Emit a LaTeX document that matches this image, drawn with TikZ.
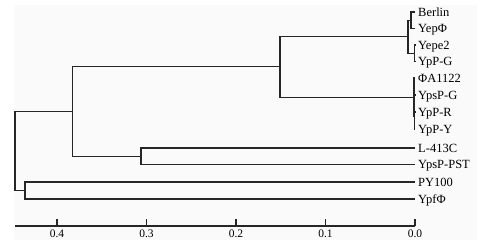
\documentclass[tikz,border=0pt]{standalone}
\usepackage{fontspec}
\setmainfont{Liberation Serif}
\usepackage{xcolor}
\definecolor{treeline}{HTML}{262626}
\definecolor{panelgray}{HTML}{FAFAFA}
\usepackage{tikz}
\usetikzlibrary{
  positioning,
  calc,
}

\begin{document}
\begin{tikzpicture}[
  x=1pt, y=-1pt,
  branch/.style={
    draw=treeline,
    line width=1.1pt,
  },
  leaf/.style={
    font=\fontsize{12.5}{13}\selectfont,
    text=black,
    inner sep=0pt,
    text height=9.5pt,
    text depth=1pt,
  },
  ticklabel/.style={
    font=\fontsize{11.5}{12}\selectfont,
    text=black,
    inner sep=0pt,
    anchor=north,
  },
]

\useasboundingbox (0,0) rectangle (502,242);
\fill[panelgray] (14,5) rectangle (477,240);

% =============================================================================
% Leaf tips (distance 0.0) and their labels
% =============================================================================
\coordinate (tBerlin) at (415,12);
\coordinate (tYep)    at (415,28.5);
\coordinate (tYepe)   at (415,45);
\coordinate (tYpPG)   at (415,61.5);
\coordinate (tPhiA)   at (415,78);
\coordinate (tYpsPG)  at (415,95);
\coordinate (tYpPR)   at (415,112);
\coordinate (tYpPY)   at (415,129);
\coordinate (tL)      at (415,148);
\coordinate (tPST)    at (415,164.5);
\coordinate (tPY)     at (415,182);
\coordinate (tYpf)    at (415,199);

\node[leaf, right=3pt of tBerlin] (lBerlin) {Berlin};
\node[leaf, right=3pt of tYep]    (lYep)    {YepΦ};
\node[leaf, right=3pt of tYepe]   (lYepe)   {Yepe2};
\node[leaf, right=3pt of tYpPG]   (lYpPG)   {YpP-G};
\node[leaf, right=3pt of tPhiA]   (lPhiA)   {ΦA1122};
\node[leaf, right=3pt of tYpsPG]  (lYpsPG)  {YpsP-G};
\node[leaf, right=3pt of tYpPR]   (lYpPR)   {YpP-R};
\node[leaf, right=3pt of tYpPY]   (lYpPY)   {YpP-Y};
\node[leaf, right=3pt of tL]      (lL)      {L-413C};
\node[leaf, right=3pt of tPST]    (lPST)    {YpsP-PST};
\node[leaf, right=3pt of tPY]     (lPY)     {PY100};
\node[leaf, right=3pt of tYpf]    (lYpf)    {YpfΦ};

% =============================================================================
% Internal nodes (x = 415 - 895 * distance)
% =============================================================================
\coordinate (nBY)    at (411,20.25);
\coordinate (nYY)    at (414.6,53.25);
\coordinate (nUpper) at (408,36.75);
\coordinate (nGR)    at (414.7,103.5);
\coordinate (nGRY)   at (414.4,116.25);
\coordinate (nLower) at (414,97.1);
\coordinate (nTop)   at (280,66.9);
\coordinate (nLP)    at (141,156.25);
\coordinate (nBig)   at (72.5,111.6);
\coordinate (nPY)    at (25,190.5);
\coordinate (nRoot)  at (15,151);

\draw[branch] (tBerlin) -| (nBY) |- (tYep);
\draw[branch] (tYepe) -| (nYY) |- (tYpPG);
\draw[branch] (nBY) -| (nUpper) |- (nYY);
\draw[branch] (tYpsPG) -| (nGR) |- (tYpPR);
\draw[branch] (nGR) -| (nGRY) |- (tYpPY);
\draw[branch] (tPhiA) -| (nLower) |- (nGRY);
\draw[branch] (nUpper) -| (nTop) |- (nLower);
\draw[branch] (tL) -| (nLP) |- (tPST);
\draw[branch] (nTop) -| (nBig) |- (nLP);
\draw[branch] (tPY) -| (nPY) |- (tYpf);
\draw[branch] (nBig) -| (nRoot) |- (nPY);

% =============================================================================
% Distance axis
% =============================================================================
\coordinate (axStart) at (15,226);
\coordinate (axEnd)   at (415,226);
\draw[branch] (axStart) -- (axEnd);

\foreach \d/\lab in {0/0.0, 1/0.1, 2/0.2, 3/0.3, 4/0.4} {
  \coordinate (tick\d) at ({415-89.5*\d},226);
  \draw[branch] (tick\d) -- ++(0,-7);
  \node[ticklabel, below=3.5pt of tick\d] (ticklab\d) {\lab};
}

\end{tikzpicture}
\end{document}
